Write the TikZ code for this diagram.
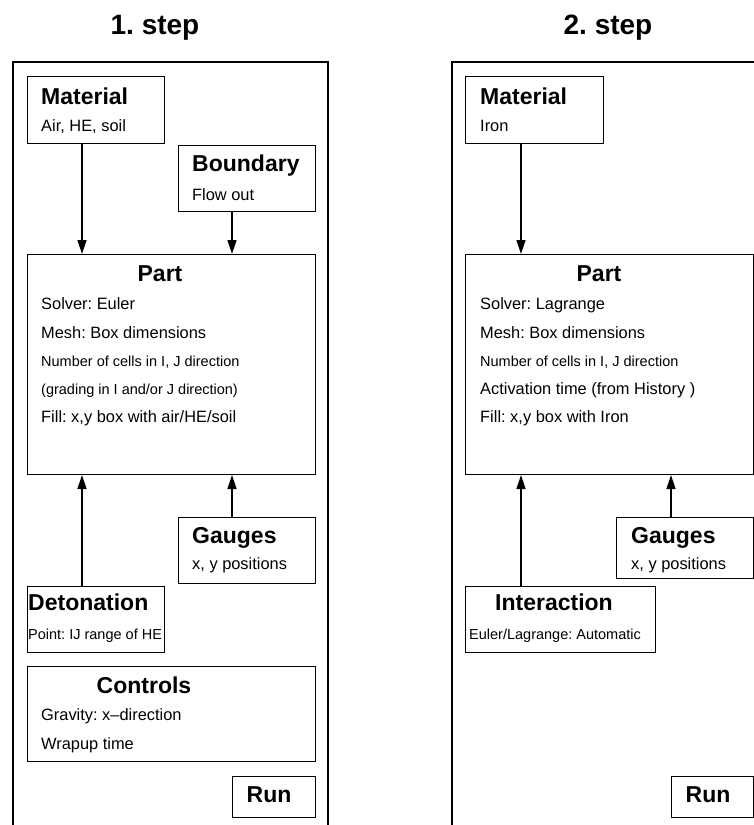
\documentclass[tikz,border=0pt]{standalone}
\usepackage{fontspec}
\setmainfont{Liberation Sans}
\usetikzlibrary{arrows.meta}
\frenchspacing

\begin{document}
\begin{tikzpicture}[x=1pt,y=-1pt,
  frame/.style={line width=2pt},
  panelbox/.style={draw,line width=1pt,inner sep=0pt,anchor=north west},
  arr/.style={line width=1.4pt,-{Triangle[length=14pt,width=9pt]}},
  steptitle/.style={font=\fontsize{28}{32}\selectfont\bfseries,inner sep=0pt,anchor=base},
  boxhead/.style={font=\fontsize{23}{27}\selectfont\bfseries,inner sep=0pt},
  boxtext/.style={font=\fontsize{16.4}{20}\selectfont,inner sep=0pt,anchor=base west},
  boxsmall/.style={font=\fontsize{14.5}{18}\selectfont,inner sep=0pt,anchor=base west}]
  \useasboundingbox (0,0) rectangle (754,825);
  % 1. step
  \node[steptitle] (t1) at (155,34) {1. step};
  \draw[frame] (13,825) |- (328,62) -- (328,825);
  \node[panelbox,minimum width=137pt,minimum height=67pt] (mat1) at (27,76) {};
  \node[panelbox,minimum width=137pt,minimum height=66pt] (bnd1) at (178,145) {};
  \node[panelbox,minimum width=288pt,minimum height=220pt] (part1) at (27,254) {};
  \node[panelbox,minimum width=137pt,minimum height=66pt] (gau1) at (178,517) {};
  \node[panelbox,minimum width=137pt,minimum height=66pt] (det1) at (27,586) {};
  \node[panelbox,minimum width=288pt,minimum height=95pt] (ctl1) at (27,666) {};
  \node[panelbox,minimum width=83pt,minimum height=41pt] (run1) at (232,776) {};
  \node[boxhead,anchor=base west] (mat1h) at (41,104) {Material};
  \node[boxtext] (mat1a) at (41,131) {Air, HE, soil};
  \node[boxhead,anchor=base west] (bnd1h) at (192,171.5) {Boundary};
  \node[boxtext] (bnd1a) at (192,200) {Flow out};
  \node[boxhead,anchor=base] (part1h) at (160,281.5) {Part};
  \node[boxtext] (part1a) at (41,309) {Solver: Euler};
  \node[boxtext] (part1b) at (41,338) {Mesh: Box dimensions};
  \node[boxsmall] (part1c) at (41,366) {Number of cells in I, J direction};
  \node[boxsmall] (part1d) at (41,394) {(grading in I and/or J direction)};
  \node[boxtext] (part1e) at (41,422) {Fill: x,y box with air/HE/soil};
  \node[boxhead,anchor=base west] (gau1h) at (192,543.5) {Gauges};
  \node[boxtext] (gau1a) at (192,569) {x, y positions};
  \node[boxhead,anchor=base west] (det1h) at (28,610.5) {Detonation};
  \node[boxsmall] (det1a) at (28,639) {Point: IJ range of HE};
  \node[boxhead,anchor=base] (ctl1h) at (144,693) {Controls};
  \node[boxtext] (ctl1a) at (41,720.5) {Gravity: x--direction};
  \node[boxtext] (ctl1b) at (41,749) {Wrapup time};
  \node[boxhead,anchor=base] (run1h) at (269,802.5) {Run};
  \draw[arr] ([xshift=55pt]mat1.south west) coordinate (m1) -- (m1 |- part1.north);
  \draw[arr] ([xshift=54pt]bnd1.south west) coordinate (b1) -- (b1 |- part1.north);
  \draw[arr] ([xshift=55pt]det1.north west) coordinate (d1) -- (d1 |- part1.south);
  \draw[arr] ([xshift=54pt]gau1.north west) coordinate (g1) -- (g1 |- part1.south);
  % 2. step
  \node[steptitle] (t2) at (608,34) {2. step};
  \draw[frame] (452,825) |- (760,62);
  \node[panelbox,minimum width=138pt,minimum height=67pt] (mat2) at (465,76) {};
  \node[panelbox,minimum width=288pt,minimum height=220pt] (part2) at (465,254) {};
  \node[panelbox,minimum width=137pt,minimum height=61pt] (gau2) at (616,517) {};
  \node[panelbox,minimum width=190pt,minimum height=66pt] (int2) at (465,586) {};
  \node[panelbox,minimum width=82pt,minimum height=41pt] (run2) at (671,776) {};
  \node[boxhead,anchor=base west] (mat2h) at (480,104) {Material};
  \node[boxtext] (mat2a) at (480,131) {Iron};
  \node[boxhead,anchor=base] (part2h) at (599,281.5) {Part};
  \node[boxtext] (part2a) at (480,309) {Solver: Lagrange};
  \node[boxtext] (part2b) at (480,338) {Mesh: Box dimensions};
  \node[boxsmall] (part2c) at (480,366) {Number of cells in I, J direction};
  \node[boxtext] (part2d) at (480,394) {Activation time (from History )};
  \node[boxtext] (part2e) at (480,422) {Fill: x,y box with Iron};
  \node[boxhead,anchor=base west] (gau2h) at (631,543.5) {Gauges};
  \node[boxtext] (gau2a) at (631,569) {x, y positions};
  \node[boxhead,anchor=base] (int2h) at (554,610.5) {Interaction};
  \node[boxsmall] (int2a) at (469,639) {Euler/Lagrange: Automatic};
  \node[boxhead,anchor=base] (run2h) at (708,802.5) {Run};
  \draw[arr] ([xshift=56pt]mat2.south west) coordinate (m2) -- (m2 |- part2.north);
  \draw[arr] ([xshift=56pt]int2.north west) coordinate (i2) -- (i2 |- part2.south);
  \draw[arr] ([xshift=55pt]gau2.north west) coordinate (g2) -- (g2 |- part2.south);
\end{tikzpicture}
\end{document}
